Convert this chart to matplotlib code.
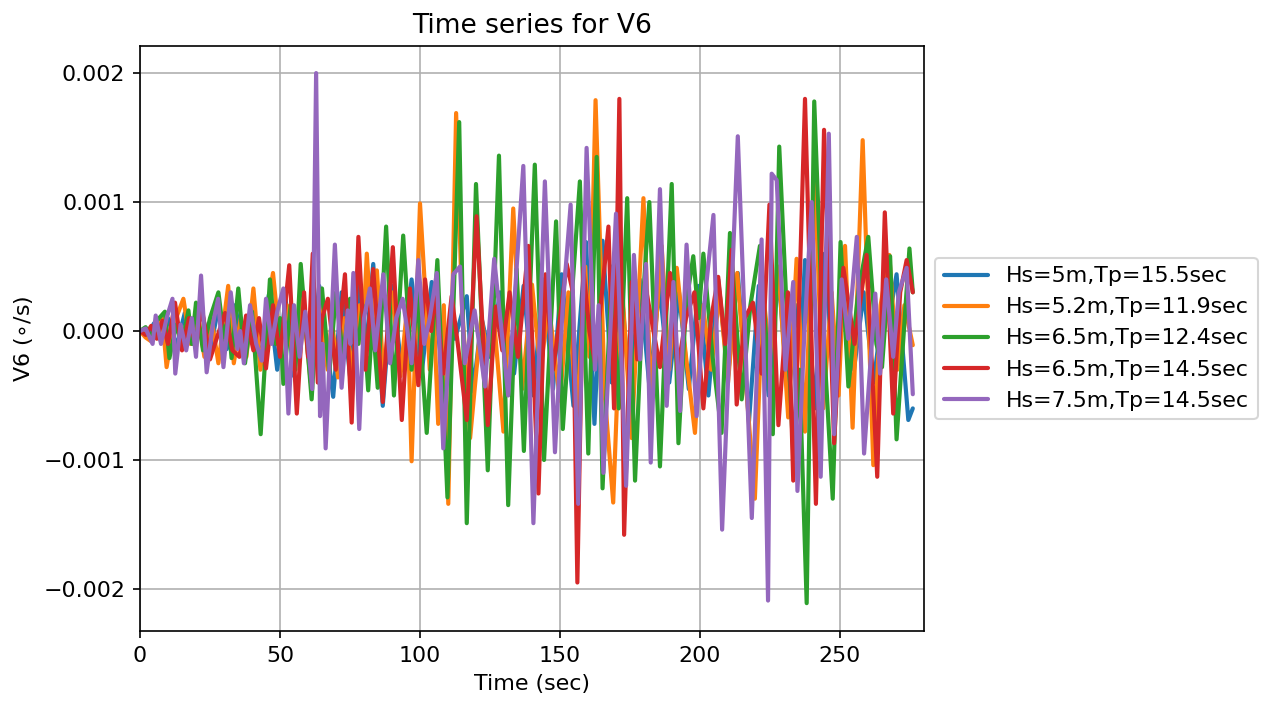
import numpy as np
import matplotlib
matplotlib.use("Agg")
import matplotlib.pyplot as plt

# Angular velocity V6 time histories for five sea states.
# Times in seconds, rates in units of 1e-3 deg/s (turning points of each record).
labels = [
    "Hs=5m,Tp=15.5sec",
    "Hs=5.2m,Tp=11.9sec",
    "Hs=6.5m,Tp=12.4sec",
    "Hs=6.5m,Tp=14.5sec",
    "Hs=7.5m,Tp=14.5sec",
]

t_hs50 = [0, 2.5, 5, 7.5, 10, 13, 16, 19, 22, 25, 28, 31, 34, 37, 40, 43, 46, 49, 52, 55,
          58, 61, 64, 69, 72, 75, 78, 80.5, 83.3, 86.7, 90, 93.5, 97, 100.5, 104.2, 108,
          110.5, 112.5, 116.7, 119, 122, 125, 128.6, 133.6, 137, 140.5, 144, 147.5, 150.6,
          154.8, 159.3, 162.3, 165.2, 168.5, 171.5, 175, 178.5, 182, 185.5, 189, 192.5,
          196, 199.5, 203, 206.5, 210, 213.5, 217.5, 221, 224.5, 228, 231.5, 234.5, 236,
          237.5, 241, 244.5, 248, 251.5, 255, 258.5, 262, 266, 268, 270.2, 274.4, 276]
v_hs50 = [0, -0.04, 0.06, -0.08, 0.10, -0.12, 0.14, -0.10, 0.16, -0.15, 0.18, -0.14, 0.20,
          -0.18, 0.22, -0.25, 0.28, -0.30, 0.25, -0.35, 0.32, -0.28, 0.35, -0.51, 0.30,
          -0.35, 0.40, -0.20, 0.52, -0.58, 0.35, -0.30, 0.40, -0.35, 0.38, -0.30, 0.05,
          -0.06, 0.27, -0.47, 0.10, -0.20, 0.30, -0.33, 0.35, -0.50, 0.40, -0.45, 0.44,
          -0.58, 0.69, -0.72, 0.70, -0.40, 0.45, -0.50, 0.40, -0.45, 0.35, -0.40, 0.30,
          -0.45, 0.35, -0.50, 0.40, -0.35, 0.45, -0.70, 0.35, -0.50, 0.45, -0.55, 0.20,
          -0.10, 0.55, -0.60, 0.60, -0.50, 0.35, -0.30, 0.30, -0.40, 0.30, 0.15, 0.44,
          -0.69, -0.60]

t_hs52 = [0, 2, 4, 6, 8, 9.5, 12, 15.5, 18, 20.5, 23, 25.5, 28, 31.5, 33.5, 36, 38, 40.5,
          43, 45, 47.5, 50, 52.5, 55, 58, 61, 64, 67, 68.5, 70.7, 73, 76, 78.5, 79.5, 81,
          83, 84.6, 87, 90, 93, 95.5, 97, 100, 103.5, 105, 106.5, 108.5, 110.1, 112.9, 115,
          117.9, 121.9, 124, 126, 129.8, 133.3, 136.5, 140, 143, 146, 150, 153, 156, 159,
          160.5, 162.7, 166, 169, 172, 175.6, 179.8, 182.5, 186.3, 189, 191.7, 195, 198.2,
          201, 204, 207, 210, 213.3, 216, 219.6, 222.5, 225, 228, 231.5, 234.5, 237.5, 241,
          244, 247, 249.5, 251.8, 254.5, 258.1, 261.9, 264.5, 267.6, 270.5, 273, 276]
v_hs52 = [0, -0.05, -0.08, 0.05, 0.10, -0.28, 0.05, 0.25, -0.10, 0.15, -0.20, 0.10, -0.25,
          0.35, -0.25, 0.10, -0.20, 0.33, -0.30, 0.10, 0.45, -0.10, 0.20, -0.30, 0.25,
          -0.40, 0.20, -0.30, 0.10, -0.36, 0.10, -0.30, 0.20, -0.10, 0.60, -0.10, 0.47,
          -0.35, 0.30, -0.35, 0.20, -1.01, 0.99, -0.30, 0.10, -0.72, 0.20, -1.34, 1.69,
          0.20, -0.83, 0.11, -0.20, 0.20, -0.78, 0.95, -0.45, 0.36, -0.30, 0.20, -0.54,
          0.30, -0.70, 0.50, -0.20, 1.79, -0.50, -1.33, 0.40, -0.83, 1.03, -0.50, 0.66,
          -0.30, 0.49, -0.20, -0.79, 0.20, -0.30, 0.30, -0.40, 0.45, -0.30, -1.30, 0.30,
          -0.20, 0.50, -0.67, 0.56, -0.78, 1.21, -0.60, 0.30, -0.50, 0.66, -0.75, 1.48,
          -1.04, 0.20, 0.59, -0.30, 0.20, -0.11]

t_hs65a = [0, 2, 4, 6, 8.9, 10.5, 13, 15, 17.3, 18.5, 20, 22.5, 25, 28, 30, 31.5, 32.7,
           35.1, 37.5, 40, 43.1, 46.4, 48.5, 50, 51.2, 53.8, 55.5, 57.4, 61.3, 63, 65,
           67.6, 70, 72.5, 75, 78, 79.5, 81.5, 83, 84.9, 87.9, 90.7, 94, 97, 99, 102.4,
           106.2, 109.8, 114, 116.7, 120, 124.2, 128.2, 131.5, 134.5, 137.1, 141, 144.3,
           148.6, 151, 154, 157.1, 160.1, 163.1, 165.2, 168.5, 171, 174, 176.8, 179.5,
           181.9, 185.7, 189.9, 192.3, 195, 197.6, 199.5, 201.2, 204.5, 207.7, 210.7, 214.9,
           218, 221.4, 226, 228.3, 233.5, 235.5, 238.1, 240.8, 243.5, 247.4, 250.2, 253,
           256.5, 260.1, 263, 265, 267.9, 270.2, 274.8, 276]
v_hs65a = [0, 0.03, -0.05, 0.08, 0.15, -0.21, 0.05, -0.10, 0.16, -0.10, 0.22, -0.15, 0.10,
           0.30, -0.05, 0.10, -0.21, 0.33, -0.25, 0.15, -0.80, 0.40, -0.10, 0.10, -0.41,
           0.20, -0.30, 0.52, -0.53, 0.10, 0.33, -0.33, 0.30, -0.20, 0.25, -0.10, 0.20,
           -0.46, 0.10, -0.44, 0.81, -0.50, 0.74, -0.30, 0.30, -0.79, 0.55, -1.29, 1.62,
           -1.49, 1.14, -1.08, 1.36, -1.35, 0.48, -0.93, 1.29, -1.00, 0.85, -0.76, 0.20,
           1.16, -0.95, 1.35, -1.22, 0.50, -0.60, 1.03, -1.16, 0.20, 1.00, -1.05, 1.14,
           -0.87, 0.20, 0.58, 0.10, 0.60, -0.20, -0.79, 0.76, -0.53, 0.20, 0.66, -0.80,
           1.43, -1.05, -0.30, -2.11, 1.78, 0.20, -1.30, 0.69, -0.43, 0.30, 0.73, -0.10,
           -0.28, 0.58, -0.84, 0.64, 0.30]

t_hs65b = [0, 2, 4, 6, 8, 10, 12.5, 15, 17.5, 20, 22, 25, 27.5, 30.4, 33, 35.5, 37.9, 40.5,
           42.5, 45, 47.5, 50, 53.3, 56, 58.6, 60, 61.7, 63.5, 65, 67.1, 69.9, 73.2, 75.6,
           78, 80.5, 83.3, 86.7, 90.3, 93.5, 96.4, 99.4, 101.8, 104, 105.5, 108.3, 111.3,
           113.5, 116.7, 120.2, 124.2, 127.1, 129.4, 132, 135, 138.7, 142.3, 144.8, 147.5,
           150, 152.4, 154.6, 156.2, 158.3, 160.5, 162.5, 165, 167.3, 169.3, 171.2, 172.9,
           175.6, 177.6, 180.5, 185.7, 189.3, 192, 195, 198, 201.2, 204, 206.5, 209, 211.3,
           213.1, 216, 218.9, 222, 224.8, 228, 231.4, 233.3, 235.5, 237.5, 241.4, 244.3,
           247.9, 251.2, 255.2, 259.5, 263.3, 266, 269, 271.5, 273.8, 276]
v_hs65b = [0, -0.03, 0.04, -0.06, 0.08, -0.10, 0.22, -0.15, 0.10, -0.12, 0.19, -0.22, -0.05,
           0.14, -0.15, -0.20, 0.12, -0.15, 0.10, -0.29, 0.20, -0.20, 0.51, -0.64, 0.30,
           -0.20, 0.60, -0.40, 0.10, 0.25, -0.30, 0.44, -0.71, 0.73, -0.30, 0.48, -0.55,
           0.65, -0.69, 0.33, -0.42, 0.40, 0.00, 0.30, -0.33, 0.27, -0.10, -0.69, 0.89,
           -0.73, 0.19, -0.15, 0.30, -0.20, 0.66, -1.26, 0.44, -0.30, 0.10, 0.52, 0.30,
           -1.95, 0.49, 0.00, -0.25, 0.30, 0.81, -0.60, 1.80, -1.58, 0.38, -0.22, 0.35,
           -0.28, 0.45, -0.30, 0.10, 0.30, -0.60, 0.10, 0.42, -0.10, 0.63, -0.57, 0.10,
           0.22, -0.33, 0.98, -0.73, 0.30, -1.16, 0.30, 1.80, -1.34, 1.56, -0.87, 0.49,
           -0.10, 0.59, -1.13, 0.92, -0.64, 0.30, 0.55, 0.30]

t_hs75 = [0, 2, 4.5, 5.6, 7.5, 9.5, 11.6, 12.6, 14.5, 16.5, 18.5, 20, 21.8, 23.8, 26, 27.9,
          29.8, 32.4, 34.8, 35.8, 37.1, 39.3, 41.5, 43.5, 45, 47, 49, 51.2, 53, 55, 57, 59,
          61.5, 62.9, 64.3, 65.2, 66.3, 69.6, 72, 74.2, 75.1, 76.2, 78.3, 80, 82.1, 84,
          86.9, 89.3, 91.5, 93.8, 95.5, 97, 99.4, 101.5, 103.5, 106, 108.3, 111.9, 114.3,
          116, 119.5, 123.2, 126.5, 131.5, 136.9, 140.5, 144.6, 148.2, 151, 153.8, 156.5,
          159.5, 162.5, 163.8, 165.5, 170, 173.6, 176.4, 178.6, 180.7, 182.4, 185.7, 188.1,
          190.5, 192.9, 195.2, 198.8, 201.5, 204.8, 207.9, 213.5, 218.5, 222, 224.3, 225.6,
          227.4, 230.5, 233.3, 234.8, 237.3, 239.9, 243.1, 246, 247.9, 250.6, 252.9, 256,
          258.6, 262.6, 264.3, 266.5, 269, 271, 273.8, 276]
v_hs75 = [0, 0.02, -0.10, 0.12, -0.10, 0.10, 0.25, -0.33, 0.05, -0.15, 0.10, -0.20, 0.43,
          -0.32, 0.05, 0.25, -0.28, 0.30, -0.14, 0.00, -0.25, 0.20, -0.10, -0.23, 0.25,
          -0.10, 0.15, 0.33, -0.64, 0.20, -0.20, 0.15, -0.45, 2.00, -0.66, -0.10, -0.91,
          0.67, -0.44, 0.16, -0.10, 0.45, -0.76, 0.10, 0.33, -0.15, 0.44, -0.25, 0.10,
          0.25, 0.00, -0.25, 0.55, -0.10, 0.10, 0.45, -0.91, 0.44, 0.50, -0.25, 0.16,
          -0.43, 0.56, -0.50, 1.28, -1.49, 1.16, -0.94, 0.20, 0.98, -1.34, 1.42, -0.30,
          0.20, -1.10, 0.91, -1.20, 0.59, -0.22, 0.52, -1.02, 1.10, -0.58, 0.38, -0.62,
          0.67, -0.66, 0.20, 0.90, -1.54, 1.51, -1.45, 0.71, -2.09, 1.22, 1.17, -0.30,
          0.38, -1.24, 0.00, 1.00, -1.13, 1.53, -0.80, 0.40, -0.06, 0.73, -0.95, 0.29,
          -0.33, 0.40, -0.20, 0.30, 0.49, -0.49]

times = [t_hs50, t_hs52, t_hs65a, t_hs65b, t_hs75]
rates = [v_hs50, v_hs52, v_hs65a, v_hs65b, v_hs75]
unit = 1e-3

plt.rcParams["font.size"] = 10.6

fig = plt.figure(figsize=(1267 / 150, 702 / 150), dpi=150)
ax = fig.add_axes([140 / 1267, 1 - 631 / 702, (924 - 140) / 1267, (631 - 46) / 702])

for t, v, lab in zip(times, rates, labels):
    ax.plot(np.asarray(t), np.asarray(v) * unit, lw=2.0, label=lab,
            solid_joinstyle="round", solid_capstyle="round")

ax.set_xlim(0, 280)
ax.set_ylim(-0.002326, 0.00221)
ax.set_yticks([-0.002, -0.001, 0.0, 0.001, 0.002])
ax.grid(True)
ax.set_title("Time series for V6")
ax.set_xlabel("Time (sec)")
ax.set_ylabel(r"V6 ($\circ$/s)")
ax.legend(loc="center left", bbox_to_anchor=(1, 0.5))

fig.savefig("out.png", dpi=150)
